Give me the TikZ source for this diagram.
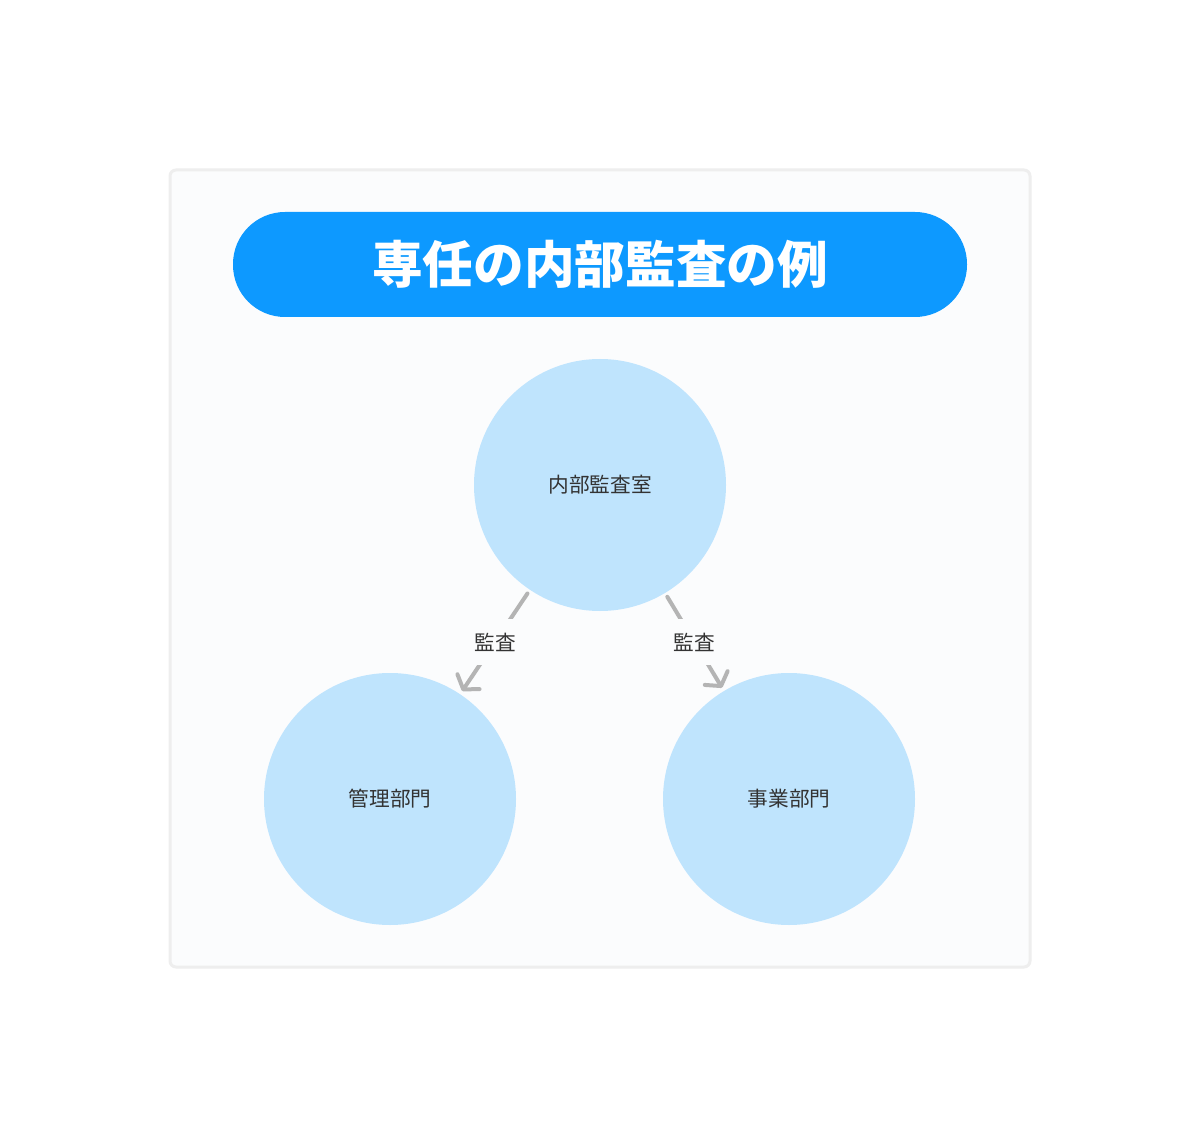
\documentclass[tikz,border=0pt]{standalone}
\usepackage{fontspec}
\usepackage{tikz}
\usetikzlibrary{arrows.meta}
\newfontfamily\jpfont{Noto Sans CJK JP}
\definecolor{frameline}{RGB}{238,238,238}
\definecolor{framefill}{RGB}{251,252,253}
\definecolor{titleblue}{RGB}{13,153,255}
\definecolor{unitblue}{RGB}{191,228,253}
\definecolor{textgray}{RGB}{51,51,51}
\definecolor{arrowgray}{RGB}{180,180,180}
\tikzset{every picture/.style={line width=0.75pt}}
\tikzset{
  unit/.style={circle,fill=unitblue,minimum size=189pt,inner sep=0pt,
    font=\jpfont\fontsize{15.5}{18}\selectfont,text=textgray},
  audit/.style={draw=arrowgray,line width=3pt,line cap=round,
    -{Straight Barb[length=7pt,width=20pt,round]},shorten <=3pt,shorten >=2.5pt},
  auditlabel/.style={fill=framefill,inner xsep=4pt,inner ysep=10pt,
    font=\jpfont\fontsize{15.5}{18}\selectfont,text=textgray}
}

\begin{document}
\begin{tikzpicture}[x=0.75pt,y=0.75pt,yscale=-1,xscale=1]
\path[use as bounding box,fill=white] (0,0) rectangle (1200,1137);

%Shape: Rectangle [frame]
\draw [draw=frameline,fill=framefill,line width=2.25pt,rounded corners=4.5pt] (170,170) rectangle (1030,967);

%Shape: Rounded Rectangle [title]
\node (title) at (600,264.5) [fill=titleblue,rounded corners=39pt,minimum width=550.5pt,minimum height=78.75pt,
  inner sep=0pt,text=white,font=\jpfont\bfseries\fontsize{38}{44}\selectfont] {専任の内部監査の例};

%Shape: Circle [units]
\node (audit) at (600,485) [unit] {内部監査室};
\node (admin) at (390,799) [unit] {管理部門};
\node (business) at (789,799) [unit] {事業部門};

% Arrows
\draw [audit] (audit) -- node [auditlabel] {監査} (admin);
\draw [audit] (audit) -- node [auditlabel] {監査} (business);

\end{tikzpicture}
\end{document}
